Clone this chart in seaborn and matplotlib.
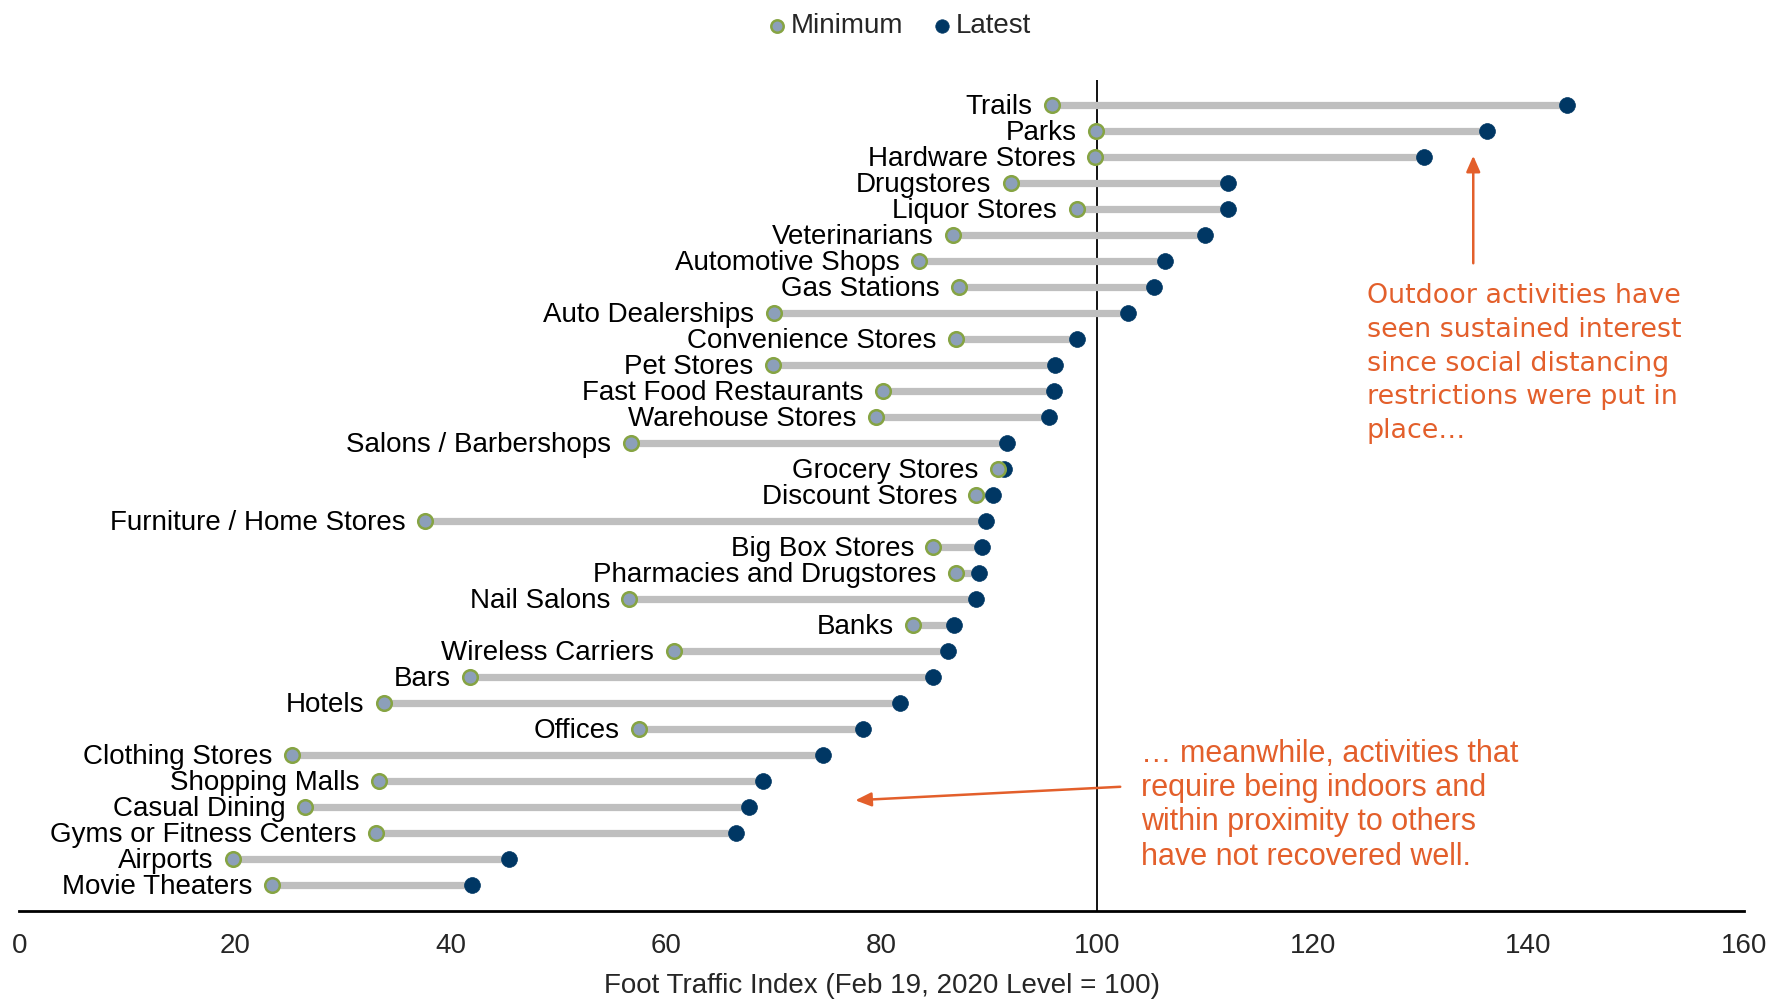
import matplotlib
matplotlib.use("Agg")
import matplotlib.pyplot as plt
import seaborn as sns
import pandas as pd

categories = [
    "Trails", "Parks", "Hardware Stores", "Drugstores", "Liquor Stores",
    "Veterinarians", "Automotive Shops", "Gas Stations", "Auto Dealerships",
    "Convenience Stores", "Pet Stores", "Fast Food Restaurants",
    "Warehouse Stores", "Salons / Barbershops", "Grocery Stores",
    "Discount Stores", "Furniture / Home Stores", "Big Box Stores",
    "Pharmacies and Drugstores", "Nail Salons", "Banks", "Wireless Carriers",
    "Bars", "Hotels", "Offices", "Clothing Stores", "Shopping Malls",
    "Casual Dining", "Gyms or Fitness Centers", "Airports", "Movie Theaters",
]
minimum = [
    95.8, 99.9, 99.8, 92.0, 98.1, 86.6, 83.5, 87.2, 70.0, 86.9, 69.9, 80.1,
    79.5, 56.7, 90.8, 88.8, 37.6, 84.8, 86.9, 56.6, 82.9, 60.7, 41.8, 33.8,
    57.5, 25.3, 33.4, 26.5, 33.1, 19.8, 23.4,
]
latest = [
    143.6, 136.2, 130.3, 112.1, 112.1, 110.0, 106.3, 105.3, 102.9, 98.1, 96.1,
    96.0, 95.5, 91.6, 91.4, 90.3, 89.7, 89.3, 89.0, 88.8, 86.7, 86.2, 84.8,
    81.7, 78.3, 74.6, 69.0, 67.7, 66.5, 45.4, 42.0,
]
x_ticks = [0, 20, 40, 60, 80, 100, 120, 140, 160]

MIN_FILL = "#8c9fba"
MIN_EDGE = "#86a443"
LATEST = "#003764"
BAR = "#bfbfbf"
ORANGE = "#e35f2b"

sns.set_theme(style="white")
plt.rcParams["font.family"] = ["Liberation Sans", "DejaVu Sans"]

df = pd.DataFrame({"category": categories, "Minimum": minimum, "Latest": latest})
df["pos"] = range(len(df))

fig = plt.figure(figsize=(17.87, 10.02), dpi=100)
ax = fig.add_axes([0.0109, 0.0912, 0.9649, 0.8290])

# connecting bars
ax.hlines(df["pos"], df["Minimum"], df["Latest"], color=BAR, lw=5.2, zorder=1)

# reference line at 100
ax.axvline(100, color="black", lw=1.3, zorder=0.5)

sns.scatterplot(data=df, x="Latest", y="pos", ax=ax, s=130, color=LATEST,
                edgecolor=LATEST, linewidth=0.5, zorder=3, label="Latest")
sns.scatterplot(data=df, x="Minimum", y="pos", ax=ax, s=110, color=MIN_FILL,
                edgecolor=MIN_EDGE, linewidth=1.8, zorder=3, label="Minimum")

# category labels next to the minimum point
for _, r in df.iterrows():
    ax.annotate(r["category"], xy=(r["Minimum"], r["pos"]), xytext=(-14, -1.5),
                textcoords="offset points", ha="right", va="center",
                fontsize=20, color="black")

ax.set_xlim(0, 160)
ax.set_ylim(31.0, -0.96)
ax.set_xticks(x_ticks)
ax.set_xticklabels([str(t) for t in x_ticks], fontsize=20)
ax.tick_params(axis="x", length=0, pad=16)
ax.set_yticks([])
ax.set_ylabel("")
ax.set_xlabel("Foot Traffic Index (Feb 19, 2020 Level = 100)", fontsize=20,
              labelpad=10)
for side in ["top", "right", "left"]:
    ax.spines[side].set_visible(False)
ax.spines["bottom"].set_color("black")
ax.spines["bottom"].set_linewidth(2)

# legend, Minimum first
handles, labels = ax.get_legend_handles_labels()
order = [labels.index("Minimum"), labels.index("Latest")]
fig.legend([handles[i] for i in order], [labels[i] for i in order],
           loc="upper center", bbox_to_anchor=(0.502, 1.012), ncol=2,
           frameon=False, fontsize=20, handletextpad=0.0, handlelength=1.0,
           columnspacing=0.9, markerscale=0.85)
ax.get_legend().remove()

# annotations
ax.text(125.0, 6.85,
        "Outdoor activities have\nseen sustained interest\nsince social distancing\n"
        "restrictions were put in\nplace…",
        color=ORANGE, fontsize=19.4, va="top", ha="left", linespacing=1.39,
        family=["DejaVu Sans"])
ax.annotate("", xy=(134.9, 1.85), xytext=(134.9, 6.2),
            arrowprops=dict(arrowstyle="-|>,head_length=0.8,head_width=0.35",
                            color=ORANGE, lw=1.8))

ax.text(104.1, 24.38,
        "… meanwhile, activities that\nrequire being indoors and\n"
        "within proximity to others\nhave not recovered well.",
        color=ORANGE, fontsize=22, va="top", ha="left", linespacing=1.19)
ax.annotate("", xy=(77.3, 26.76), xytext=(102.4, 26.23),
            arrowprops=dict(arrowstyle="-|>,head_length=0.8,head_width=0.35",
                            color=ORANGE, lw=1.8))

fig.savefig("out.png", dpi=100)
